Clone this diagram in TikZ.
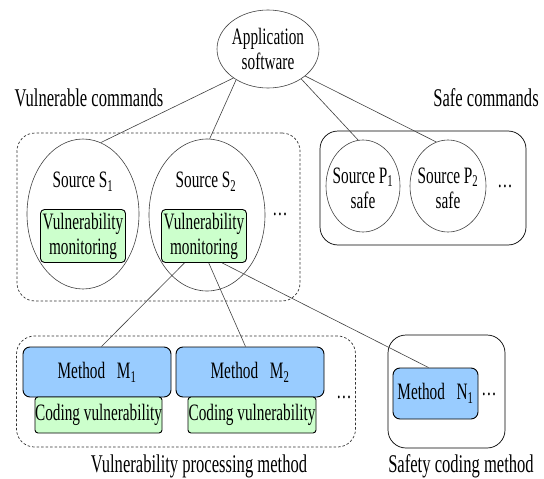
\documentclass[tikz,border=0pt]{standalone}
\usepackage{fontspec}
\setmainfont{Liberation Serif}[FakeStretch=0.65]
\usetikzlibrary{shapes.geometric}

\definecolor{monitorgreen}{RGB}{204,255,204}
\definecolor{methodblue}{RGB}{153,204,255}

\begin{document}
\begin{tikzpicture}[x=1pt, y=-1pt,
   every node/.style={inner sep=0pt, font=\fontsize{23.5}{25}\selectfont},
   title/.style={anchor=base, font=\fontsize{25.5}{26}\selectfont},
   link/.style={draw=black!75, line width=0.6pt},
   source/.style={draw=black!75, ellipse, line width=0.6pt},
   group/.style={draw, rounded corners=18pt, line width=0.7pt},
   dashgroup/.style={group, draw=black!80, dash pattern=on 2.5pt off 2pt},
   monitorbox/.style={draw, fill=monitorgreen, rounded corners=4pt, align=center,
      line width=0.9pt, minimum width=85pt, minimum height=53pt},
   methodbox/.style={draw, fill=methodblue, rounded corners=7pt, line width=0.9pt,
      minimum height=50pt},
   codingbox/.style={draw, fill=monitorgreen, rounded corners=3pt, line width=0.9pt,
      minimum height=36pt}]

\useasboundingbox (0,0) rectangle (544,479);

% top level
\node[source, align=center, minimum width=98pt, minimum height=78pt] (app) at (268,49)
   {Application\\software};
\node[title] (vultitle) at (89,106) {Vulnerable commands};
\node[title] (safetitle) at (486,106) {Safe commands};

% vulnerable sources
\node[dashgroup, minimum width=283pt, minimum height=168pt] (vulgroup) at (158.5,217) {};
\node[source, minimum width=112pt, minimum height=150pt] (s1) at (83,214) {};
\node[source, minimum width=116pt, minimum height=152pt] (s2) at (207,215) {};
\node (s1text) at (83,182) {Source S\textsubscript{1}};
\node (s2text) at (206,182) {Source S\textsubscript{2}};
\node[monitorbox] (mon1) at (83,236) {Vulnerability\\monitoring};
\node[monitorbox] (mon2) at (204,236) {Vulnerability\\monitoring};
\node (vuldots) at (280,214) {\dots};

% safe sources
\node[group, minimum width=206pt, minimum height=114pt] (safegroup) at (423,188) {};
\node[source, minimum width=74pt, minimum height=92pt] (p1) at (363,186) {};
\node[source, minimum width=76pt, minimum height=92pt] (p2) at (448,186) {};
\node[align=center] (p1text) at (363,188) {Source P\textsubscript{1}\\safe};
\node[align=center] (p2text) at (448,188) {Source P\textsubscript{2}\\safe};
\node (safedots) at (505,186) {\dots};

% processing methods
\node[dashgroup, minimum width=339pt, minimum height=111pt] (procgroup) at (186,391.5) {};
\node[methodbox, minimum width=148pt] (m1) at (97,372) {Method\enspace M\textsubscript{1}};
\node[methodbox, minimum width=148pt] (m2) at (250,372) {Method\enspace M\textsubscript{2}};
\node[codingbox, minimum width=127pt] (c1) at (98.5,415) {Coding vulnerability};
\node[codingbox, minimum width=128pt] (c2) at (252,415) {Coding vulnerability};
\node (procdots) at (344,397) {\dots};
\node[title] (proctitle) at (199,472) {Vulnerability processing method};

% safe coding
\node[group, minimum width=117pt, minimum height=113pt] (codegroup) at (446.5,391.5) {};
\node[methodbox, minimum width=85pt, minimum height=51pt] (n1) at (435.5,393.5) {Method\enspace N\textsubscript{1}};
\node (codedots) at (489,394) {\dots};
\node[title] (codetitle) at (461,472) {Safety coding method};

% connectors
\draw[link] (app.-140) -- (s1.76);
\draw[link] (app.-136) -- (s2.88);
\draw[link] (app.-42) -- (p1.96);
\draw[link] (app.-36) -- (p2.105);
\draw[link] (mon2.-126) -- (m1.80);
\draw[link] (mon2.-80) -- (m2.100);
\draw[link] (mon2.-56) -- (n1.105);

\end{tikzpicture}
\end{document}
